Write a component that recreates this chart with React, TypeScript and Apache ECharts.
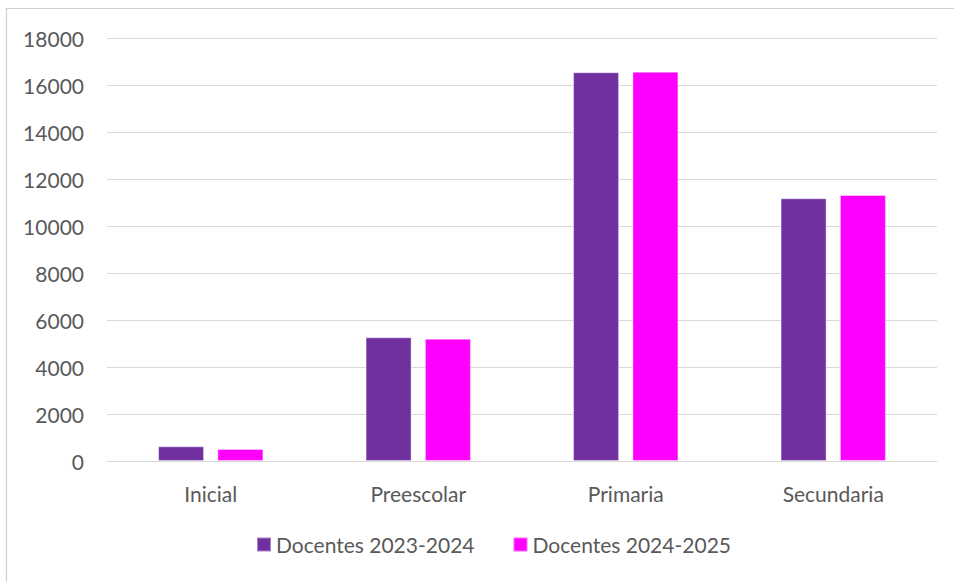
import React, { useEffect, useRef } from "react";
import * as echarts from "echarts";

const categories = ["Inicial", "Preescolar", "Primaria", "Secundaria"];
const docentes2023 = [625, 5264, 16540, 11180];
const docentes2024 = [510, 5205, 16565, 11320];
const seriesNames = ["Docentes 2023-2024", "Docentes 2024-2025"];

export default function App() {
  const ref = useRef<HTMLDivElement>(null);
  useEffect(() => {
    if (!ref.current) return;
    const chart = echarts.init(ref.current, null, { renderer: "svg" });
    const font = "Lato, 'Noto Sans', sans-serif";
    chart.setOption({
      animation: false,
      backgroundColor: "#ffffff",
      textStyle: { fontFamily: font },
      graphic: [
        {
          type: "rect",
          shape: { x: 6.5, y: 8.5, width: 1000, height: 700 },
          style: { fill: "none", stroke: "#d0d0d0", lineWidth: 1.2 },
          z: 10,
        },
      ],
      grid: { left: 107, right: 17, top: 38, bottom: 121, containLabel: false },
      legend: {
        bottom: 22,
        left: 251,
        itemWidth: 14,
        itemHeight: 14,
        itemGap: 38,
        icon: "rect",
        textStyle: { color: "#595959", fontSize: 21, fontFamily: font },
        data: seriesNames,
      },
      xAxis: {
        type: "category",
        data: categories,
        axisLine: { lineStyle: { color: "#d9d9d9", width: 1 } },
        axisTick: { show: false },
        axisLabel: { color: "#595959", fontSize: 21, margin: 22, fontFamily: font },
      },
      yAxis: {
        type: "value",
        min: 0,
        max: 18000,
        interval: 2000,
        axisLine: { show: false },
        axisTick: { show: false },
        splitLine: { lineStyle: { color: "#d9d9d9", width: 1 } },
        axisLabel: {
          color: "#595959",
          fontSize: 21,
          margin: 23,
          fontFamily: font,
          formatter: (v: number) => String(v),
        },
      },
      series: [
        {
          name: seriesNames[0],
          type: "bar",
          data: docentes2023,
          barWidth: 46,
          barGap: "29%",
          itemStyle: { color: "#7030A0", borderColor: "rgba(255,255,255,0.4)", borderWidth: 1 },
        },
        {
          name: seriesNames[1],
          type: "bar",
          data: docentes2024,
          barWidth: 46,
          barGap: "29%",
          itemStyle: { color: "#FF00FF", borderColor: "rgba(255,255,255,0.4)", borderWidth: 1 },
        },
      ],
    });
    return () => chart.dispose();
  }, []);
  return (
    <div
      ref={ref}
      style={{ position: "absolute", left: 0, top: 0, width: 954, height: 582 }}
    />
  );
}
